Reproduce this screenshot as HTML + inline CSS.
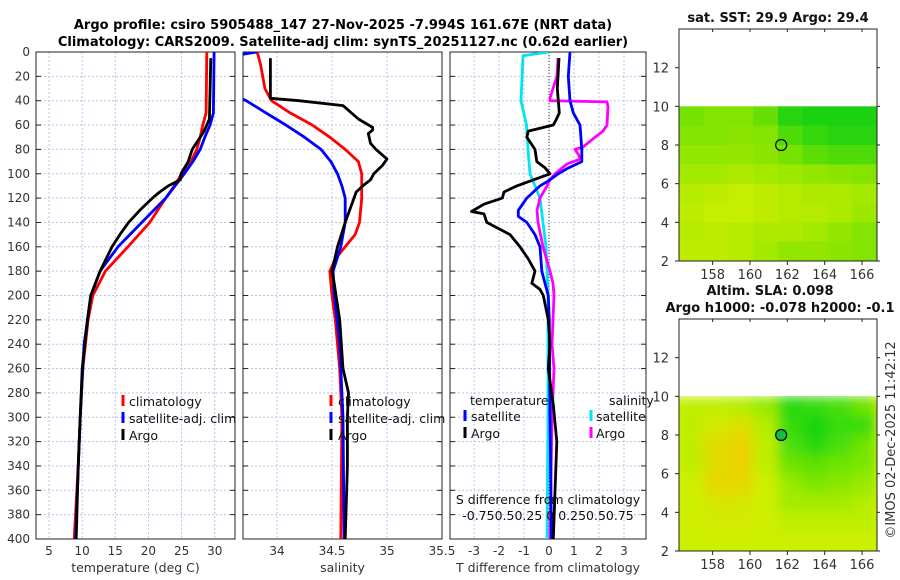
<!DOCTYPE html>
<html><head><meta charset="utf-8"><style>
body{margin:0;background:#fff;}
svg{display:block;font-family:"DejaVu Sans","Liberation Sans",sans-serif;}
</style></head><body>
<svg id="fig" width="900" height="580" viewBox="0 0 900 580">
<defs>
<clipPath id="c1"><rect x="36" y="52" width="199" height="487"/></clipPath>
<clipPath id="c2"><rect x="243" y="52" width="199" height="487"/></clipPath>
<clipPath id="c3"><rect x="450" y="52" width="196" height="487"/></clipPath>
<clipPath id="cm2"><rect x="679" y="396" width="198" height="155"/></clipPath>
<filter id="blur"><feGaussianBlur stdDeviation="6"/></filter>
</defs>
<text x="343" y="29" text-anchor="middle" font-size="13" font-weight="bold">Argo profile: csiro 5905488_147 27-Nov-2025 -7.994S 161.67E (NRT data)</text>
<text x="343" y="46" text-anchor="middle" font-size="13" font-weight="bold">Climatology: CARS2009. Satellite-adj clim: synTS_20251127.nc (0.62d earlier)</text>
<g id="g"></g>
</svg>
<script>
// ---------- data ----------
var depthTicks=[0,20,40,60,80,100,120,140,160,180,200,220,240,260,280,300,320,340,360,380,400];
var tempTicks=[5,10,15,20,25,30];
var salTicks=[34,34.5,35,35.5];
var dTicks=[-3,-2,-1,0,1,2,3];
// temperature panel
var tClimD=[0,50,60,70,80,90,100,110,120,140,160,180,200,220,260,300,340,400];
var tClimV=[28.8,28.7,28.2,27.8,27.3,26.4,25.0,23.9,22.6,20.2,16.9,13.5,11.6,10.9,10.1,9.7,9.4,8.8];
var tSatD=[0,50,60,70,80,90,100,110,120,140,160,180,200,240,300,400];
var tSatV=[29.9,29.8,29.3,28.5,27.8,26.7,25.4,24.0,22.6,19.0,15.4,12.7,11.3,10.3,9.7,9.0];
var tArgoD=[5,55,60,65,70,80,90,100,105,110,115,120,130,140,150,160,180,200,220,260,300,340,400];
var tArgoV=[29.4,29.2,28.8,28.4,27.8,26.6,26.0,24.9,24.8,23.0,21.7,20.6,18.7,17.0,15.7,14.5,12.7,11.3,10.8,10.0,9.7,9.4,9.1];
// salinity panel
var sClimD=[0,10,30,40,50,60,70,80,90,100,120,140,150,160,170,180,200,220,260,300,400];
var sClimV=[33.82,33.85,33.89,33.95,34.12,34.32,34.48,34.62,34.74,34.77,34.77,34.75,34.71,34.62,34.53,34.48,34.5,34.53,34.57,34.59,34.58];
var sSatD=[0,3,35,40,50,60,70,80,90,100,110,120,140,160,180,200,240,300,400];
var sSatV=[33.82,33.6,33.6,33.72,33.9,34.08,34.25,34.4,34.49,34.55,34.59,34.62,34.62,34.58,34.51,34.52,34.57,34.6,34.61];
var sArgoD=[5,38,40,44,55,62,64,67,75,80,88,93,100,105,110,115,120,140,160,180,190,220,260,280,300,340,400];
var sArgoV=[33.94,33.94,34.2,34.6,34.74,34.87,34.87,34.83,34.85,34.9,35.0,34.96,34.88,34.85,34.78,34.72,34.7,34.62,34.55,34.5,34.52,34.57,34.6,34.65,34.64,34.64,34.62];
// difference panel (T in deg C, S in psu)
var dtSatD=[0,20,40,50,60,80,90,96,100,105,110,120,130,135,140,150,160,180,190,200,220,300,400];
var dtSatV=[0.84,0.77,0.84,0.97,1.24,1.31,1.31,0.7,0.37,0.04,-0.36,-0.89,-1.23,-1.23,-0.89,-0.56,-0.36,-0.29,-0.16,-0.03,0.01,0.04,0.1];
var dtArgoD=[5,30,40,50,55,60,65,70,80,90,95,100,110,115,120,125,131,133,140,150,160,170,180,190,195,200,220,240,260,290,320,400];
var dtArgoV=[0.4,0.33,0.37,0.41,0.3,0.17,-0.83,-0.89,-0.56,-0.49,-0.16,0.04,-1.29,-1.8,-1.87,-2.6,-3.1,-2.6,-2.49,-1.56,-1.16,-0.83,-0.56,-0.69,-0.36,-0.23,-0.03,0.04,-0.03,0.17,0.31,0.17];
var dsSatD=[0,3,40,60,80,100,110,120,140,160,200,300,400];
var dsSatV=[0,-0.26,-0.28,-0.225,-0.21,-0.19,-0.14,-0.09,-0.06,-0.03,-0.01,-0.01,-0.02];
var dsArgoD=[5,20,30,38,40,41,45,60,65,70,78,80,85,88,92,100,105,110,120,130,140,160,180,190,200,240,260,280,300,400];
var dsArgoV=[0.09,0.08,0.04,0.01,0.01,0.58,0.59,0.58,0.54,0.46,0.34,0.26,0.3,0.31,0.18,0.06,0.01,-0.02,-0.09,-0.12,-0.11,-0.06,0.01,0.04,0.05,0.03,0.05,0.04,0.03,0.01];
// maps
var lonTicks=[158,160,162,164,166];
var latTicks=[2,4,6,8,10,12];
var sstGrid=[
[0.55,0.5,0.5,0.6,0.85,0.9,0.9,0.9],
[0.5,0.5,0.45,0.5,0.7,0.8,0.85,0.85],
[0.4,0.4,0.4,0.45,0.55,0.65,0.7,0.7],
[0.3,0.3,0.25,0.3,0.35,0.4,0.45,0.5],
[0.2,0.15,0.1,0.15,0.2,0.25,0.25,0.3],
[0.15,0.1,0.1,0.15,0.2,0.2,0.25,0.35],
[0.2,0.15,0.2,0.25,0.25,0.3,0.4,0.5],
[0.15,0.15,0.2,0.3,0.4,0.4,0.45,0.5]];
var slaGrid=[
[0.4,0.4,0.45,0.55,0.9,0.85,0.8,0.7],
[0.4,0.3,0.2,0.45,0.85,0.95,0.85,0.85],
[0.4,0.15,0.05,0.4,0.8,0.9,0.8,0.7],
[0.4,0.15,0.05,0.4,0.7,0.75,0.7,0.65],
[0.35,0.1,0.1,0.35,0.55,0.65,0.6,0.55],
[0.35,0.25,0.25,0.35,0.5,0.5,0.5,0.45],
[0.35,0.3,0.3,0.35,0.4,0.4,0.4,0.4],
[0.35,0.35,0.35,0.35,0.35,0.35,0.35,0.35]];
var argoLon=161.67, argoLat=8.0;

// ---------- drawing ----------
var NS='http://www.w3.org/2000/svg';
var G=document.getElementById('g');
function el(t,a,p){var e=document.createElementNS(NS,t);for(var k in a)e.setAttribute(k,a[k]);(p||G).appendChild(e);return e;}
var TOP=52,BOT=539;
function yD(d){return TOP+d*(BOT-TOP)/400;}
function xT(v){return 49+(v-5)*6.63;}
function xS(v){return 277+(v-34)*110;}
function xDT(v){return 549+v*25;}
function xDS(v){return 549+v*100;}

function panel(x0,x1,xt,ticks,fmt,name,xlabel){
  var g=el('g',{});
  
  
  depthTicks.forEach(function(d){
    var l=el('line',{x1:x0,x2:x1,y1:yD(d),y2:yD(d),stroke:'#b8c4ea','stroke-width':1,'stroke-dasharray':'2,2'},g);
    
    
    el('line',{x1:x0,x2:x0+5,y1:yD(d),y2:yD(d),stroke:'#222'},g);
    el('line',{x1:x1-5,x2:x1,y1:yD(d),y2:yD(d),stroke:'#222'},g);
  });
  ticks.forEach(function(v){
    var x=xt(v);
    el('line',{x1:x,x2:x,y1:TOP,y2:BOT,stroke:'#b8c4ea','stroke-width':1,'stroke-dasharray':'2,2'},g);
    var t=el('text',{x:x,y:BOT+16,'text-anchor':'middle','font-size':12,fill:'#333'},g);t.textContent=fmt(v);
    
    
  });
  el('rect',{x:x0,y:TOP,width:x1-x0,height:BOT-TOP,fill:'none',stroke:'#222','stroke-width':1},g);
  var xl=el('text',{x:(x0+x1)/2,y:572,'text-anchor':'middle','font-size':12.5,fill:'#333'},g);xl.textContent=xlabel;
  
  
  return g;
}
function line(D,V,xf,color,clip,name){
  var pts=D.map(function(d,i){return xf(V[i]).toFixed(1)+','+yD(d).toFixed(1);}).join(' ');
  var p=el('polyline',{points:pts,fill:'none',stroke:color,'stroke-width':2.8,'stroke-linejoin':'round','clip-path':'url(#'+clip+')'});
  
  
}
function txt(x,y,s,opt,name){var t=el('text',Object.assign({x:x,y:y,'font-size':12.5,fill:'#111'},opt||{}));t.textContent=s;
  
  return t;}
function mark(x,y,c){el('rect',{x:x-1.5,y:y-6,width:3,height:11,fill:c});}

panel(36,235,xT,tempTicks,String,'temperature-panel','temperature (deg C)');
depthTicks.forEach(function(d){txt(30,yD(d)+4,String(d),{'text-anchor':'end',fill:'#333',"font-size":12},'y-tick-label');});
panel(243,442,xS,salTicks,String,'salinity-panel','salinity');
panel(450,646,xDT,dTicks,String,'difference-panel','T difference from climatology');
el('line',{x1:549,x2:549,y1:TOP,y2:BOT,stroke:'#333','stroke-dasharray':'1,2'});

line(tClimD,tClimV,xT,'#f00','c1','temp-climatology-line');
line(tSatD,tSatV,xT,'#00f','c1','temp-satellite-line');
line(tArgoD,tArgoV,xT,'#000','c1','temp-argo-line');
line(sClimD,sClimV,xS,'#f00','c2','sal-climatology-line');
line(sSatD,sSatV,xS,'#00f','c2','sal-satellite-line');
line(sArgoD,sArgoV,xS,'#000','c2','sal-argo-line');
line(dsSatD,dsSatV,xDS,'#00e5ee','c3','sdiff-satellite-line');
line(dsArgoD,dsArgoV,xDS,'#f0f','c3','sdiff-argo-line');
line(dtSatD,dtSatV,xDT,'#00f','c3','tdiff-satellite-line');
line(dtArgoD,dtArgoV,xDT,'#000','c3','tdiff-argo-line');

// legends
[[0,'climatology','#f00'],[1,'satellite-adj. clim','#00f'],[2,'Argo','#000']].forEach(function(a){
  var y=401+a[0]*17;
  mark(123,y,a[2]);txt(129,y+5,a[1],{},'legend-entry-temp');
  mark(331,y,a[2]);txt(338,y+5,a[1],{},'legend-entry-sal');
});
txt(470,405,'temperature',{},'legend-heading-temperature');
txt(609,405,'salinity',{},'legend-heading-salinity');
mark(465,416,'#00f');txt(471,421,'satellite',{},'legend-entry-tdiff-sat');
mark(465,433,'#000');txt(471,438,'Argo',{},'legend-entry-tdiff-argo');
mark(591,416,'#00e5ee');txt(596,421,'satellite',{},'legend-entry-sdiff-sat');
mark(591,433,'#f0f');txt(596,438,'Argo',{},'legend-entry-sdiff-argo');
txt(548,504,'S difference from climatology',{'text-anchor':'middle'},'sdiff-axis-title');
txt(548,520,'-0.750.50.25 0 0.250.50.75',{'text-anchor':'middle'},'sdiff-tick-labels');

// maps
var MX0=679,MX1=877,LON0=156.2,LON1=166.8;
function xLon(v){return MX0+(v-LON0)*(MX1-MX0)/(LON1-LON0);}
function c3(stops,v){for(var i=1;i<stops.length;i++){if(v<=stops[i][0]||i==stops.length-1){var a=stops[i-1],b=stops[i],f=Math.max(0,Math.min(1,(v-a[0])/(b[0]-a[0])));return 'rgb('+[1,2,3].map(function(k){return Math.round(a[k]+(b[k]-a[k])*f);}).join(',')+')';}}}
var sstStops=[[0,215,240,0],[0.5,130,228,0],[1,0,205,20]];
var slaStops=[[0,240,205,0],[0.35,205,240,0],[0.7,110,228,0],[1,0,210,20]];
function map(bot,grid,stops,name,blur){
  var g=el('g',{});
  
  
  function yLat(v){return bot-(v-2)*232/12;}
  var gg=el('g',blur?{'clip-path':'url(#cm2)'}:{},g);
  var inner=el('g',blur?{filter:'url(#blur)'}:{},gg);
  var cw=(MX1-MX0)/grid[0].length, ch=(yLat(2)-yLat(10))/grid.length;
  if(blur) el('rect',{x:MX0-20,y:yLat(10),width:240,height:175,fill:c3(stops,0.35)},inner);
  grid.forEach(function(row,r){row.forEach(function(v,c){
    var cell=el('rect',{x:MX0+c*cw,y:yLat(10)+r*ch,width:cw+0.5,height:ch+0.5,fill:c3(stops,v)},inner);
    
    
  });});
  el('rect',{x:MX0,y:bot-232,width:MX1-MX0,height:232,fill:'none',stroke:'#222'},g);
  latTicks.forEach(function(v){var y=yLat(v);el('line',{x1:MX0-4,x2:MX0,y1:y,y2:y,stroke:'#222'},g);el('line',{x1:MX1,x2:MX1+3,y1:y,y2:y,stroke:'#222'},g);
    var t=el('text',{x:MX0-10,y:y+5,'text-anchor':'end','font-size':13,fill:'#333'},g);t.textContent=v;});
  lonTicks.forEach(function(v){var x=xLon(v);el('line',{x1:x,x2:x,y1:bot,y2:bot+4,stroke:'#222'},g);el('line',{x1:x,x2:x,y1:bot-232,y2:bot-229,stroke:'#222'},g);
    var t=el('text',{x:x,y:bot+18,'text-anchor':'middle','font-size':13,fill:'#333'},g);t.textContent=v;});
  var m=el('circle',{cx:xLon(argoLon),cy:yLat(argoLat),r:5.5,fill:blur?'#10c040':'none',stroke:'#000','stroke-width':1.2},g);
  
  
}
map(261,sstGrid,sstStops,'sst-map',false);
map(551,slaGrid,slaStops,'sla-map',true);
txt(778,22,'sat. SST: 29.9 Argo: 29.4',{'text-anchor':'middle','font-weight':'bold','font-size':13},'sst-map-title');
txt(770,295,'Altim. SLA: 0.098',{'text-anchor':'middle','font-weight':'bold','font-size':13},'sla-map-title');
txt(780,312,'Argo h1000: -0.078 h2000: -0.1',{'text-anchor':'middle','font-weight':'bold','font-size':13},'sla-map-subtitle');
txt(0,0,'©IMOS 02-Dec-2025 11:42:12',{'text-anchor':'middle','font-size':13,fill:'#333',transform:'translate(895,440) rotate(-90)'},'timestamp-label');
</script>
</body></html>
